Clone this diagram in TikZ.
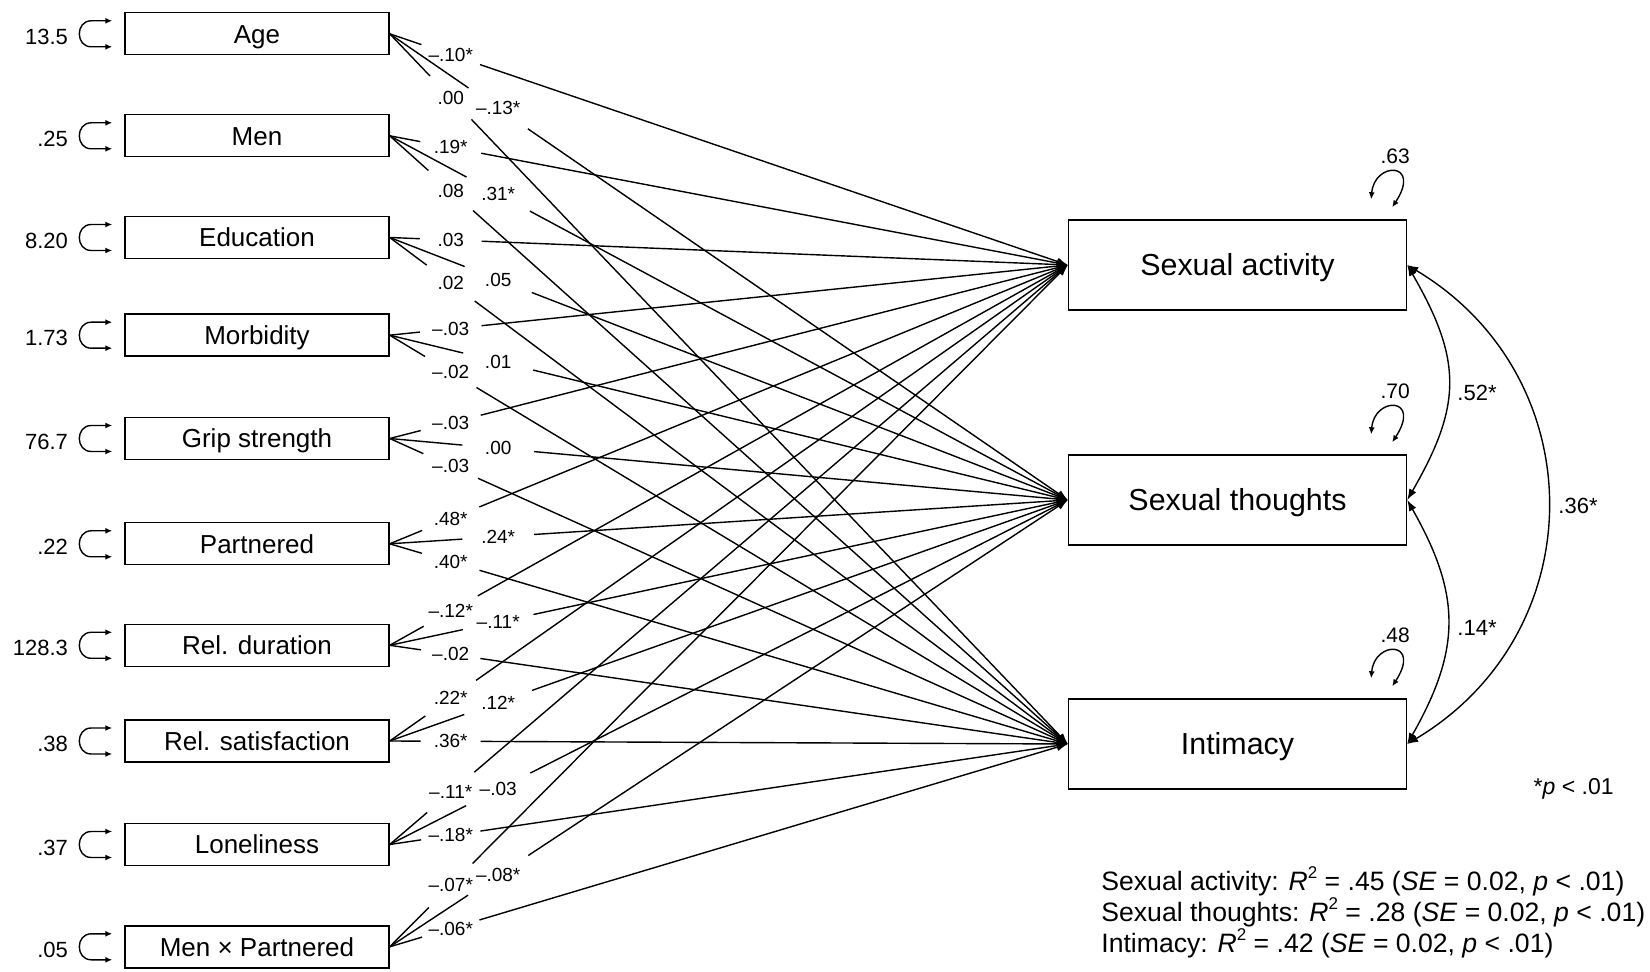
\documentclass[tikz,border=0pt]{standalone}
\usepackage{fontspec}
\setmainfont{Liberation Sans}
\usetikzlibrary{calc,arrows.meta}

\tikzset{
  predbox/.style={draw,line width=0.7pt,minimum width=132pt,minimum height=21pt,inner sep=0pt,
    text height=9.3pt,text depth=0pt,font=\fontsize{13}{15}\selectfont},
  outbox/.style={draw,line width=0.7pt,minimum width=169pt,minimum height=45pt,inner sep=0pt,
    text height=10.9pt,text depth=0pt,font=\fontsize{15.2}{18}\selectfont},
  coef/.style={inner sep=0pt,font=\fontsize{9.5}{11}\selectfont},
  varlabel/.style={inner sep=0pt,anchor=east,font=\fontsize{11}{13}\selectfont},
  reslabel/.style={inner sep=0pt,font=\fontsize{10.5}{12}\selectfont},
  covlabel/.style={inner sep=0pt,font=\fontsize{11}{13}\selectfont},
  notelabel/.style={inner sep=0pt,anchor=base west,font=\fontsize{13.3}{15.5}\selectfont},
  link/.style={line width=0.7pt},
  headed/.style={-{Latex[length=5.5pt,width=4pt]}},
  bihead/.style={{Latex[length=5.5pt,width=4pt]}-{Latex[length=5.5pt,width=4pt]}},
  smallbihead/.style={{Latex[length=3.5pt,width=3pt]}-{Latex[length=3.5pt,width=3pt]}}
}

% predictor -> outcome, broken where the coefficient sits
\newcommand{\coefline}[5]{
  \coordinate (#1-#2) at ($(#1.east)!#3!(#2.west)$);
  \draw[link] (#1.east) -- ($(#1-#2)!#4!(#1.east)$);
  \draw[link,headed] ($(#1-#2)!#4!(#2.west)$) -- (#2.west);
  \node[coef] at (#1-#2) {#5};
}
\newcommand{\rsq}{\textit{R}\raisebox{0.42em}{\fontsize{8.5}{9}\selectfont 2}}

\begin{document}
\begin{tikzpicture}[x=0.5pt,y=-0.5pt]
  \useasboundingbox (0,0) rectangle (1650,972);

  % predictors
  \foreach \p/\y/\txt in {age/33.8/Age, men/135.8/Men, edu/237.5/Education, morb/335.2/Morbidity,
      grip/438.5/Grip strength, part/543.8/Partnered, reldur/645.3/Rel. duration,
      relsat/741/Rel. satisfaction, lone/844.5/Loneliness, menpart/946.8/Men × Partnered} {
    \node[predbox] (\p) at (257,\y) {\txt};
  }

  % outcomes
  \node[outbox] (sexact) at (1237.5,265) {Sexual activity};
  \node[outbox] (sexthought) at (1237.5,500) {Sexual thoughts};
  \node[outbox] (intim) at (1237.5,744) {Intimacy};

  % regression paths and variances
  \foreach \p/\va/\ca/\cb/\cc in {age/13.5/–.10*/–.13*/.00, men/.25/.19*/.31*/.08,
      edu/8.20/.03/.05/.02, morb/1.73/–.03/.01/–.02, grip/76.7/–.03/.00/–.03,
      part/.22/.48*/.24*/.40*, reldur/128.3/–.12*/–.11*/–.02, relsat/.38/.22*/.12*/.36*,
      lone/.37/–.11*/–.03/–.18*, menpart/.05/–.07*/–.08*/–.06*} {
    \coefline{\p}{sexact}{0.09}{15.5pt}{\ca}
    \coefline{\p}{sexthought}{0.16}{18pt}{\cb}
    \coefline{\p}{intim}{0.09}{15pt}{\cc}
    \draw[link,smallbihead] ($(\p.west)+(-12,-13)$) -- ++(-21,0)
      .. controls +(-16,0) and +(-16,0) .. ++(0,26) -- ++(21,0);
    \node[varlabel] at ($(\p.west)+(-56,3)$) {\va};
  }

  % residuals
  \foreach \o/\res in {sexact/.63, sexthought/.70, intim/.48} {
    \draw[link,smallbihead] ($(\o.north east)+(-36,-20)$)
      .. controls ($(\o.north east)+(-33,-58)$) and ($(\o.north east)+(15,-58)$)
      .. ($(\o.north east)+(-15,-12)$);
    \node[reslabel] at ($(\o.north east)+(-12,-63)$) {\res};
  }

  % covariances
  \draw[link,bihead] (sexact.east) .. controls +(55,95) and +(55,-95) .. (sexthought.east);
  \draw[link,bihead] (sexthought.east) .. controls +(54,95) and +(54,-95) .. (intim.east);
  \draw[link,bihead] (sexact.east) .. controls +(187,112) and +(187,-112) .. (intim.east);
  \node[covlabel] (cov1) at (1477,393) {.52*};
  \node[covlabel] (cov2) at (1477,628) {.14*};
  \node[covlabel] (cov3) at (1578,506) {.36*};

  % notes
  \node[inner sep=0pt,anchor=base east,font=\fontsize{11.5}{13}\selectfont] (pnote) at (1614,795) {*\textit{p} < .01};
  \node[notelabel] (note1) at (1101,890) {Sexual activity: \rsq{} = .45 (\textit{SE} = 0.02, \textit{p} < .01)};
  \node[notelabel] (note2) at (1101,921) {Sexual thoughts: \rsq{} = .28 (\textit{SE} = 0.02, \textit{p} < .01)};
  \node[notelabel] (note3) at (1101,952) {Intimacy: \rsq{} = .42 (\textit{SE} = 0.02, \textit{p} < .01)};
\end{tikzpicture}
\end{document}
